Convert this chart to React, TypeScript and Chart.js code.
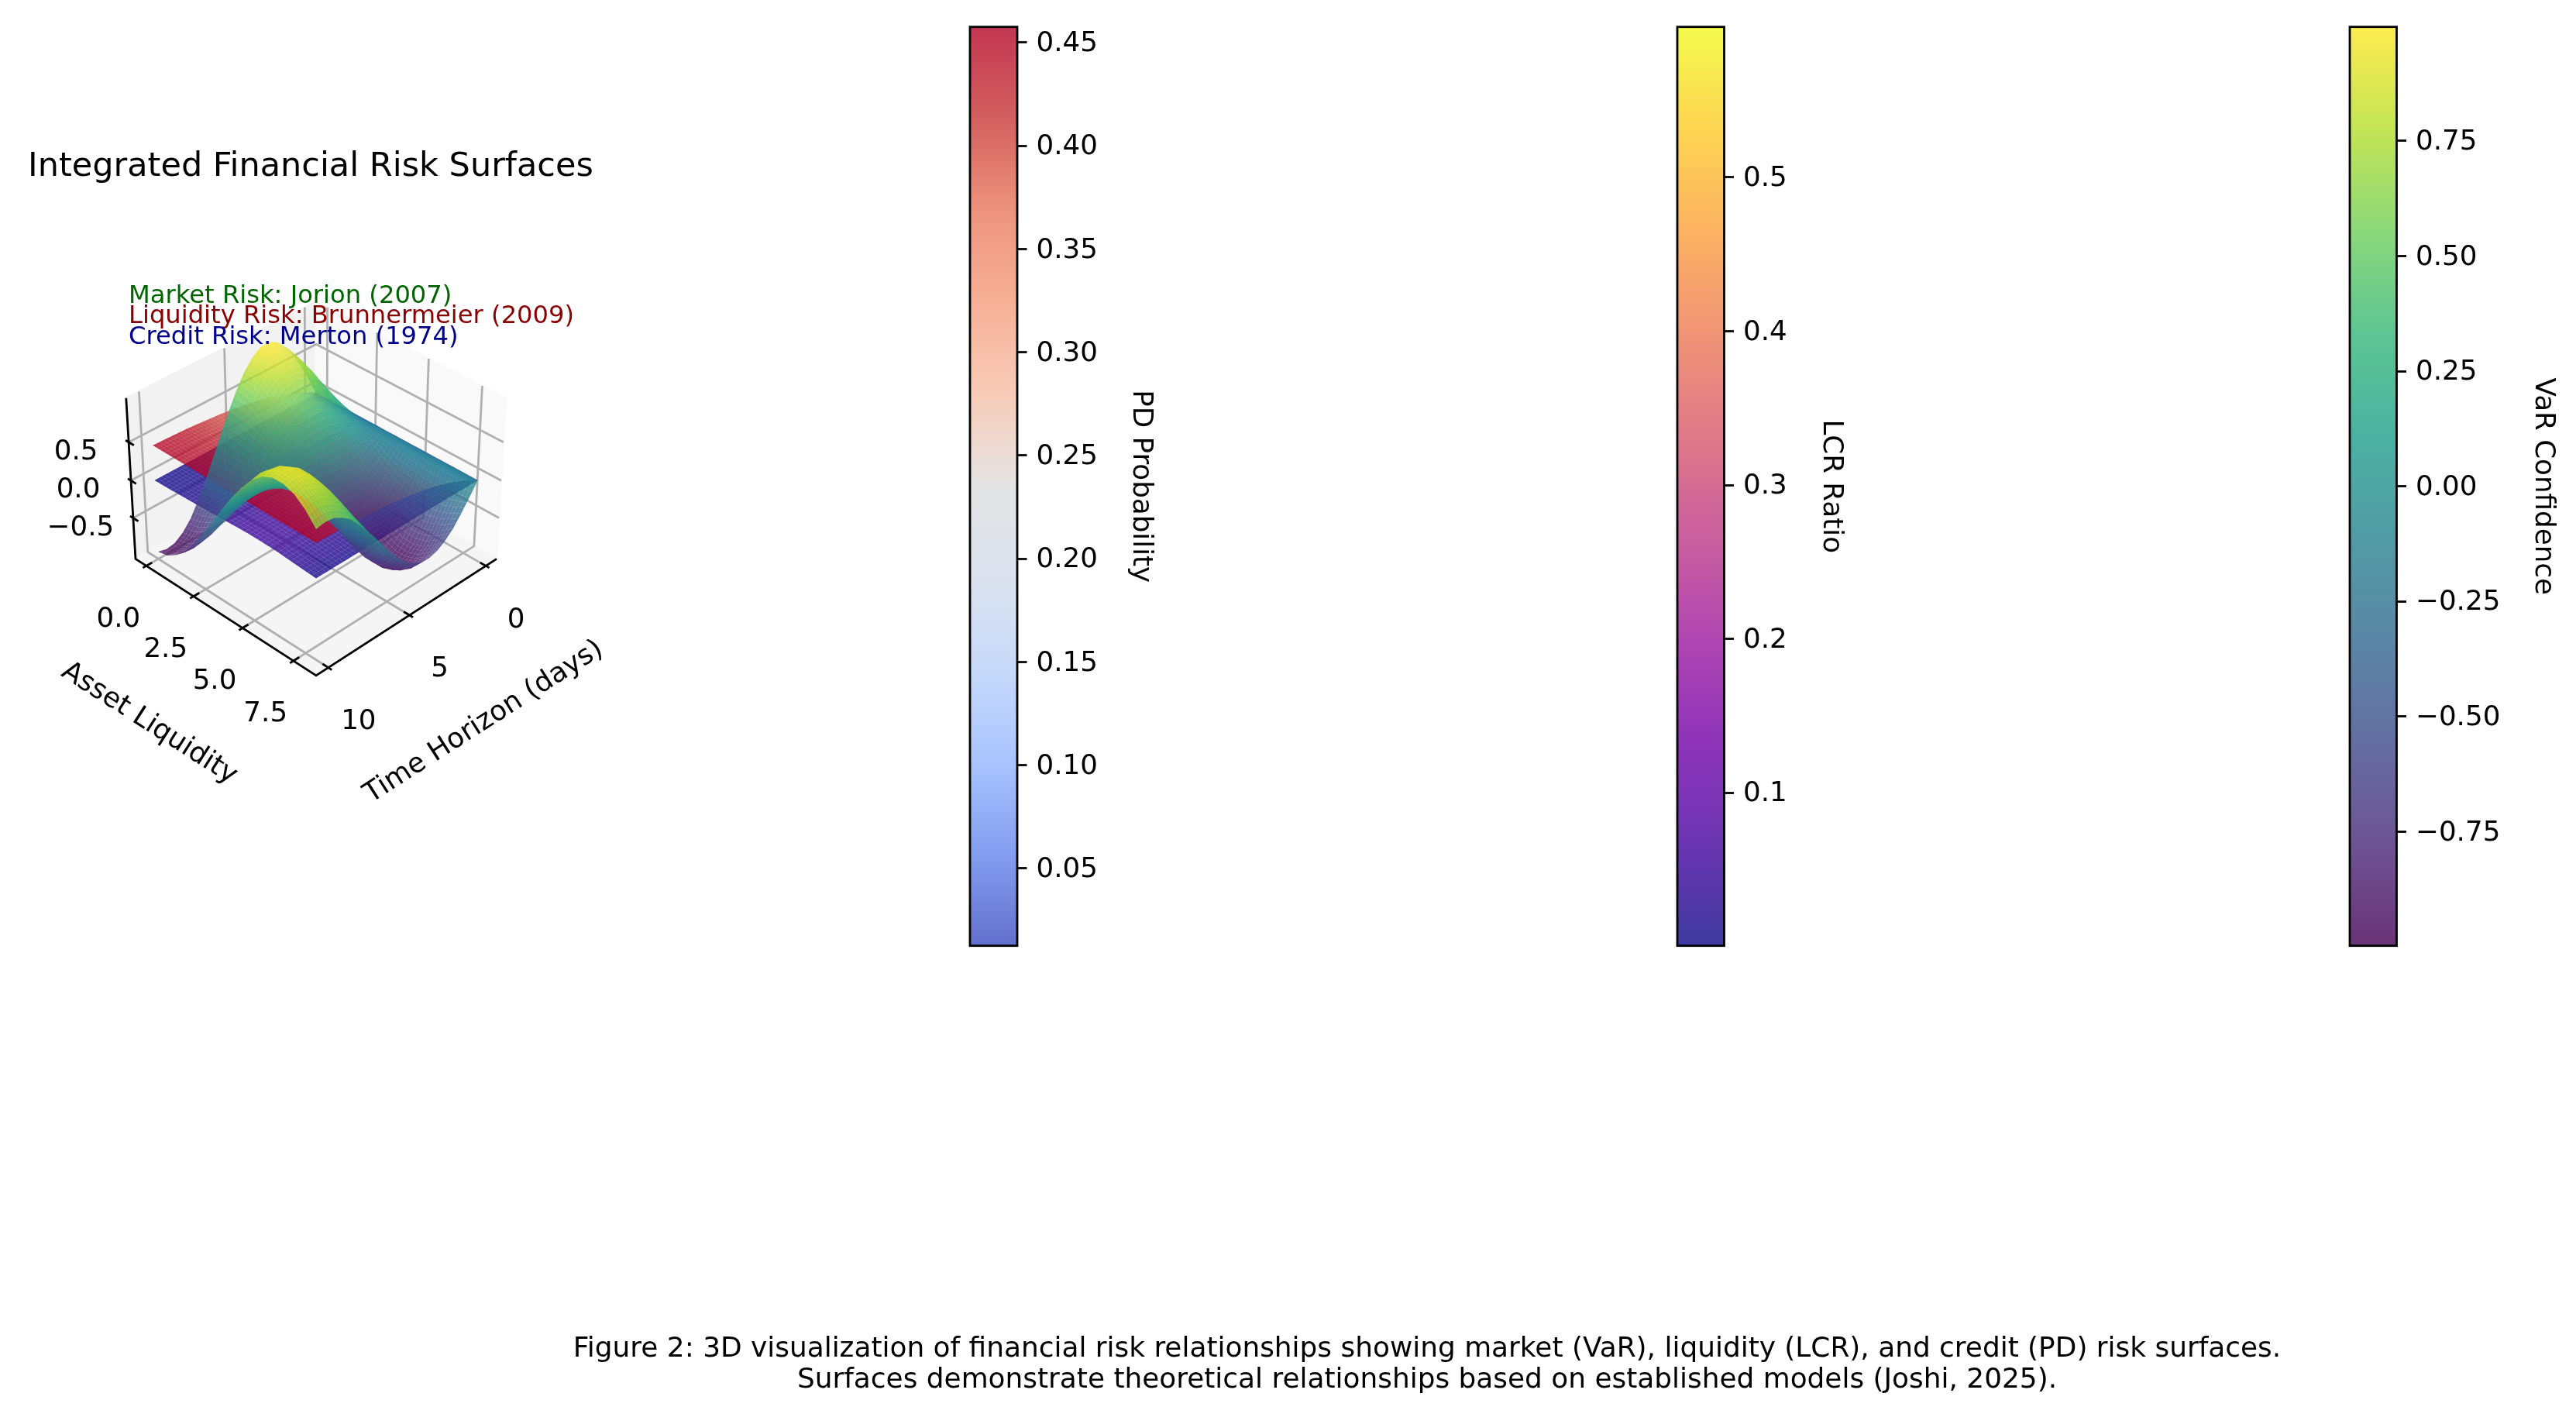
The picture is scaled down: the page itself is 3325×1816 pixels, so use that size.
import { useEffect, useRef } from 'react';
import { Chart, registerables } from 'chart.js';

Chart.register(...registerables);

const W = 3325;
const H = 1816;
const FONT = '"DejaVu Sans"';

// ---- data ----
const TIME_FINE = [0, 0.5, 1, 1.5, 2, 2.5, 3, 3.5, 4, 4.5, 5, 5.5, 6, 6.5, 7, 7.5, 8, 8.5, 9, 9.5, 10];
const LIQ_FINE = [0, 0.5, 1, 1.5, 2, 2.5, 3, 3.5, 4, 4.5, 5, 5.5, 6, 6.5, 7, 7.5, 8];
const VAR_Z = [
  [0, .25, .48, .68, .84, .95, 1.0, .99, .91, .78, .60, .38, .14, -.11, -.35, -.57, -.76, -.89, -.97, -.99, -.96],
  [0, .24, .46, .66, .81, .92, .97, .95, .88, .75, .58, .37, .14, -.10, -.34, -.55, -.73, -.87, -.94, -.96, -.93],
  [0, .22, .42, .60, .74, .83, .88, .86, .80, .68, .53, .34, .12, -.09, -.31, -.50, -.66, -.78, -.86, -.87, -.84],
  [0, .18, .35, .50, .62, .69, .73, .72, .67, .57, .44, .28, .10, -.08, -.26, -.42, -.55, -.65, -.71, -.73, -.70],
  [0, .13, .26, .37, .45, .51, .54, .53, .49, .42, .32, .21, .08, -.06, -.19, -.31, -.41, -.48, -.53, -.54, -.52],
  [0, .08, .15, .21, .26, .30, .31, .31, .29, .25, .19, .12, .04, -.03, -.11, -.18, -.24, -.28, -.31, -.31, -.30],
  [0, .02, .03, .05, .06, .07, .07, .07, .06, .06, .04, .03, .01, -.01, -.02, -.04, -.05, -.06, -.07, -.07, -.07],
  [0, -.04, -.09, -.12, -.15, -.17, -.18, -.18, -.16, -.14, -.11, -.07, -.03, .02, .06, .10, .13, .16, .17, .18, .17],
  [0, -.10, -.20, -.28, -.35, -.39, -.41, -.41, -.38, -.32, -.25, -.16, -.06, .04, .15, .24, .31, .37, .41, .41, .40],
  [0, -.16, -.30, -.43, -.53, -.60, -.63, -.62, -.57, -.49, -.38, -.24, -.09, .07, .22, .36, .48, .56, .61, .62, .60],
  [0, -.20, -.38, -.55, -.67, -.76, -.80, -.79, -.73, -.62, -.48, -.31, -.11, .09, .28, .46, .61, .72, .78, .80, .77],
  [0, -.23, -.44, -.63, -.78, -.88, -.92, -.91, -.84, -.72, -.55, -.35, -.13, .10, .32, .53, .70, .83, .90, .92, .89],
  [0, -.24, -.47, -.68, -.83, -.94, -.99, -.98, -.90, -.77, -.59, -.38, -.14, .11, .35, .57, .75, .89, .96, .98, .95],
  [0, -.25, -.48, -.68, -.84, -.94, -.99, -.98, -.90, -.77, -.59, -.38, -.14, .11, .35, .57, .75, .89, .97, .99, .95],
  [0, -.23, -.45, -.64, -.79, -.89, -.93, -.92, -.85, -.73, -.56, -.36, -.13, .10, .33, .54, .71, .84, .91, .93, .90],
  [0, -.20, -.39, -.56, -.69, -.78, -.82, -.81, -.75, -.64, -.49, -.31, -.12, .09, .29, .47, .62, .73, .80, .82, .79],
  [0, -.16, -.31, -.45, -.55, -.62, -.65, -.64, -.59, -.51, -.39, -.25, -.09, .07, .23, .37, .50, .58, .64, .65, .63],
];
const TIME_COARSE = [0, 1, 2, 3, 4, 5, 6, 7, 8, 9, 10];
const LIQ_COARSE = [0, 1, 2, 3, 4, 5, 6, 7, 8];
const PD_BY_TIME = [0.006, 0.12, 0.21, 0.28, 0.33, 0.37, 0.40, 0.42, 0.44, 0.45, 0.458];
const LCR_Z = [
  [.001, .001, .002, .002, .002, .002, .002, .002, .002, .002, .002],
  [.001, .005, .008, .01, .01, .01, .01, .01, .01, .01, .01],
  [.001, .01, .016, .02, .02, .02, .02, .02, .02, .02, .02],
  [.001, .016, .026, .032, .032, .032, .032, .032, .032, .032, .032],
  [.001, .022, .036, .045, .045, .045, .045, .045, .045, .045, .045],
  [.001, .028, .044, .055, .055, .055, .055, .055, .055, .055, .055],
  [.001, .025, .04, .05, .05, .05, .05, .05, .05, .05, .05],
  [.001, .015, .024, .03, .03, .03, .03, .03, .03, .03, .03],
  [.001, .005, .008, .01, .01, .01, .01, .01, .01, .01, .01],
];

const X_TICKS = [0, 5, 10];
const Y_TICKS = [0, 2.5, 5, 7.5];
const Z_TICKS = [-0.5, 0, 0.5];
const TITLE = 'Integrated Financial Risk Surfaces';
const X_LABEL = 'Time Horizon (days)';
const Y_LABEL = 'Asset Liquidity';
const NOTES = [
  { text: 'Market Risk: Jorion (2007)', color: '#006400', base: 391 },
  { text: 'Liquidity Risk: Brunnermeier (2009)', color: '#8b0000', base: 417 },
  { text: 'Credit Risk: Merton (1974)', color: '#00008b', base: 444 },
];
const CAPTION = [
  'Figure 2: 3D visualization of financial risk relationships showing market (VaR), liquidity (LCR), and credit (PD) risk surfaces.',
  'Surfaces demonstrate theoretical relationships based on established models (Joshi, 2025).',
];

const VIRIDIS = ['#440154', '#482878', '#3e4a89', '#31688e', '#26828e', '#1f9e89', '#35b779', '#6ece58', '#b5de2b', '#fde725'];
const PLASMA = ['#0d0887', '#46039f', '#7201a8', '#9c179e', '#bd3786', '#d8576b', '#ed7953', '#fb9f3a', '#fdca26', '#f0f921'];
const COOLWARM = ['#3b4cc0', '#6485ec', '#93b5fe', '#b9d0f9', '#d1dae9', '#dddddd', '#f6bfa6', '#f59c7d', '#e9785d', '#c83836', '#b40426'];

const BARS = [
  { name: 'PD Probability', left: 1252.7, right: 1313, min: 0.0125, max: 0.4576, ticks: [0.05, 0.1, 0.15, 0.2, 0.25, 0.3, 0.35, 0.4, 0.45], digits: 2, stops: COOLWARM, edge: 1494 },
  { name: 'LCR Ratio', left: 2165, right: 2225.5, min: 0.0005, max: 0.5978, ticks: [0.1, 0.2, 0.3, 0.4, 0.5], digits: 1, stops: PLASMA, edge: 2385 },
  { name: 'VaR Confidence', left: 3033, right: 3093.5, min: -0.9978, max: 0.9975, ticks: [-0.75, -0.5, -0.25, 0, 0.25, 0.5, 0.75], digits: 2, stops: VIRIDIS, edge: 3304 },
];

// ---- view of the 3D box ----
const ELEV = (35 * Math.PI) / 180;
const AZIM = (45 * Math.PI) / 180;
const DIST = 10;
const HALF = [0.595, 0.595, 0.446];
const X_PANE = [-0.73, 10.73];
const Y_PANE = [-0.583, 8.583];
const Z_PANE = [-1.06, 1.06];
const PX_PER_UNIT = 2840;
const CENTER_X = 408;
const CENTER_Y = 620.2;

const U = [-Math.sin(AZIM), Math.cos(AZIM), 0];
const V = [-Math.sin(ELEV) * Math.cos(AZIM), -Math.sin(ELEV) * Math.sin(AZIM), Math.cos(ELEV)];
const N = [Math.cos(ELEV) * Math.cos(AZIM), Math.cos(ELEV) * Math.sin(AZIM), Math.sin(ELEV)];
const dot = (a: number[], b: number[]) => a[0] * b[0] + a[1] * b[1] + a[2] * b[2];

function toBox(x: number, y: number, z: number) {
  return [
    ((x - X_PANE[0]) / (X_PANE[1] - X_PANE[0]) * 2 - 1) * HALF[0],
    ((y - Y_PANE[0]) / (Y_PANE[1] - Y_PANE[0]) * 2 - 1) * HALF[1],
    ((z - Z_PANE[0]) / (Z_PANE[1] - Z_PANE[0]) * 2 - 1) * HALF[2],
  ];
}
function project(x: number, y: number, z: number) {
  const d = toBox(x, y, z);
  const depth = DIST - dot(N, d);
  return { x: dot(U, d) / depth, y: dot(V, d) / depth, depth };
}

function hexRgb(h: string) {
  return [parseInt(h.slice(1, 3), 16), parseInt(h.slice(3, 5), 16), parseInt(h.slice(5, 7), 16)];
}
function sampleMap(stops: string[], t: number) {
  const f = Math.min(1, Math.max(0, t)) * (stops.length - 1);
  const i = Math.min(stops.length - 2, Math.floor(f));
  const a = hexRgb(stops[i]);
  const b = hexRgb(stops[i + 1]);
  const k = f - i;
  return [0, 1, 2].map((c) => Math.round(a[c] + (b[c] - a[c]) * k));
}

// Finer drawing mesh over a table of values, as a line's tension would do.
function buildMesh(xs: number[], ys: number[], table: number[][], sub: number) {
  const nx = (xs.length - 1) * sub + 1;
  const ny = (ys.length - 1) * sub + 1;
  const pts: { x: number; y: number }[] = [];
  const zs: number[] = [];
  const depths: number[] = [];
  for (let j = 0; j < ny; j++) {
    const jb = Math.min(ys.length - 2, Math.floor(j / sub));
    const fy = j / sub - jb;
    const yv = ys[jb] + (ys[jb + 1] - ys[jb]) * fy;
    for (let i = 0; i < nx; i++) {
      const ib = Math.min(xs.length - 2, Math.floor(i / sub));
      const fx = i / sub - ib;
      const xv = xs[ib] + (xs[ib + 1] - xs[ib]) * fx;
      const z0 = table[jb][ib] + (table[jb][ib + 1] - table[jb][ib]) * fx;
      const z1 = table[jb + 1][ib] + (table[jb + 1][ib + 1] - table[jb + 1][ib]) * fx;
      const z = z0 + (z1 - z0) * fy;
      const p = project(xv, yv, z);
      pts.push({ x: p.x, y: p.y });
      zs.push(z);
      depths.push(p.depth);
    }
  }
  return { nx, ny, pts, zs, depths };
}

const PD_Z = LIQ_COARSE.map(() => PD_BY_TIME);

const SURFACES = [
  { label: 'LCR', mesh: buildMesh(TIME_COARSE, LIQ_COARSE, LCR_Z, 5), stops: PLASMA, min: 0.0005, max: 0.5978 },
  { label: 'PD', mesh: buildMesh(TIME_COARSE, LIQ_COARSE, PD_Z, 5), stops: COOLWARM, min: 0.0125, max: 0.4576 },
  { label: 'VaR', mesh: buildMesh(TIME_FINE, LIQ_FINE, VAR_Z, 3), stops: VIRIDIS, min: -0.9978, max: 0.9975 },
];

const mainPlugin = {
  id: 'surfaces3d',
  beforeDatasetsDraw(chart: any) {
    const { ctx } = chart;
    const sx = chart.scales.x;
    const sy = chart.scales.y;
    const px = (x: number, y: number, z: number) => {
      const p = project(x, y, z);
      return [sx.getPixelForValue(p.x), sy.getPixelForValue(p.y)];
    };
    const poly = (points: number[][]) => {
      ctx.beginPath();
      points.forEach((q, i) => (i ? ctx.lineTo(q[0], q[1]) : ctx.moveTo(q[0], q[1])));
    };
    const [x0, x1] = X_PANE;
    const [y0, y1] = Y_PANE;
    const [z0, z1] = Z_PANE;
    ctx.save();
    ctx.lineJoin = 'round';
    const pane = (pts: number[][], c: string) => {
      poly(pts);
      ctx.closePath();
      ctx.fillStyle = c;
      ctx.fill();
      ctx.strokeStyle = c;
      ctx.lineWidth = 2.8;
      ctx.stroke();
    };
    pane([px(x0, y0, z0), px(x1, y0, z0), px(x1, y0, z1), px(x0, y0, z1)], '#f2f2f2');
    pane([px(x0, y0, z0), px(x0, y1, z0), px(x0, y1, z1), px(x0, y0, z1)], '#f9f9f9');
    pane([px(x0, y0, z0), px(x1, y0, z0), px(x1, y1, z0), px(x0, y1, z0)], '#f5f5f5');

    ctx.strokeStyle = '#b0b0b0';
    ctx.lineWidth = 2.8;
    X_TICKS.forEach((t) => {
      poly([px(t, y1, z0), px(t, y0, z0), px(t, y0, z1)]);
      ctx.stroke();
    });
    Y_TICKS.forEach((t) => {
      poly([px(x1, t, z0), px(x0, t, z0), px(x0, t, z1)]);
      ctx.stroke();
    });
    Z_TICKS.forEach((t) => {
      poly([px(x1, y0, t), px(x0, y0, t), px(x0, y1, t)]);
      ctx.stroke();
    });

    ctx.strokeStyle = '#000';
    ctx.lineWidth = 2.8;
    poly([px(x0, y1, z0), px(x1, y1, z0), px(x1, y0, z0), px(x1, y0, z1)]);
    ctx.stroke();
    const tx = (x1 - x0) * 0.03;
    const ty = (y1 - y0) * 0.03;
    X_TICKS.forEach((t) => {
      poly([px(t, y1 - ty, z0), px(t, y1 + ty * 0.6, z0)]);
      ctx.stroke();
    });
    Y_TICKS.forEach((t) => {
      poly([px(x1 - tx, t, z0), px(x1 + tx * 0.6, t, z0)]);
      ctx.stroke();
    });
    Z_TICKS.forEach((t) => {
      poly([px(x1, y0 + ty, t), px(x1, y0 - ty * 0.6, t)]);
      ctx.stroke();
    });
    ctx.restore();
  },
  afterDatasetsDraw(chart: any) {
    const { ctx } = chart;
    ctx.save();
    SURFACES.forEach((s, di) => {
      const el = chart.getDatasetMeta(di).data;
      const { nx, ny, zs, depths } = s.mesh;
      const quads: { d: number; idx: number[]; z: number }[] = [];
      for (let j = 0; j < ny - 1; j++) {
        for (let i = 0; i < nx - 1; i++) {
          const a = j * nx + i;
          const idx = [a, a + 1, a + nx + 1, a + nx];
          quads.push({
            d: (depths[idx[0]] + depths[idx[1]] + depths[idx[2]] + depths[idx[3]]) / 4,
            z: (zs[idx[0]] + zs[idx[1]] + zs[idx[2]] + zs[idx[3]]) / 4,
            idx,
          });
        }
      }
      quads.sort((p, q) => q.d - p.d);
      quads.forEach((q) => {
        const c = sampleMap(s.stops, (q.z - s.min) / (s.max - s.min));
        ctx.fillStyle = `rgba(${c[0]},${c[1]},${c[2]},0.8)`;
        ctx.beginPath();
        q.idx.forEach((k, m) => (m ? ctx.lineTo(el[k].x, el[k].y) : ctx.moveTo(el[k].x, el[k].y)));
        ctx.closePath();
        ctx.fill();
      });
    });

    const sx = chart.scales.x;
    const sy = chart.scales.y;
    const at = (x: number, y: number, z: number) => {
      const p = project(x, y, z);
      return [sx.getPixelForValue(p.x), sy.getPixelForValue(p.y)];
    };
    ctx.fillStyle = '#000';
    ctx.textAlign = 'center';
    ctx.textBaseline = 'middle';
    ctx.font = `35.7px ${FONT}`;
    const [x0, x1] = X_PANE;
    const [y0, y1] = Y_PANE;
    const [z0] = Z_PANE;
    X_TICKS.forEach((t) => {
      const p = at(t, y1, z0);
      ctx.fillText(String(t), p[0] + 39, p[1] + 70);
    });
    Y_TICKS.forEach((t) => {
      const p = at(x1, t, z0);
      ctx.fillText(t.toFixed(1), p[0] - 36, p[1] + 69);
    });
    Z_TICKS.forEach((t) => {
      const p = at(x1, y0, t);
      ctx.fillText(t.toFixed(1).replace('-', '\u2212'), p[0] - 68, p[1] + 13);
    });
    const rotated = (text: string, c: number[], ang: number) => {
      ctx.save();
      ctx.translate(c[0], c[1]);
      ctx.rotate(ang);
      ctx.fillText(text, 0, 0);
      ctx.restore();
    };
    const ym = at(x1, (y0 + y1) / 2, z0);
    const xm = at((x0 + x1) / 2, y1, z0);
    rotated(Y_LABEL, [ym[0] - 95, ym[1] + 140], (32.7 * Math.PI) / 180);
    rotated(X_LABEL, [xm[0] + 96, xm[1] + 138], (-32.7 * Math.PI) / 180);

    ctx.textAlign = 'left';
    ctx.textBaseline = 'alphabetic';
    ctx.font = `43px ${FONT}`;
    ctx.fillText(TITLE, 36, 227);
    ctx.font = `32.2px ${FONT}`;
    NOTES.forEach((n) => {
      ctx.fillStyle = n.color;
      ctx.fillText(n.text, 166, n.base);
    });
    ctx.fillStyle = '#000';
    ctx.textAlign = 'center';
    ctx.font = `35.9px ${FONT}`;
    ctx.fillText(CAPTION[0], 1842, 1751);
    ctx.fillText(CAPTION[1], 1842, 1791);
    ctx.restore();
  },
};

const PANEL_TOP = 34.7;
const PANEL_BOTTOM = 1220.7;
const LABEL_NUDGE = 2;

function makeBar(canvas: HTMLCanvasElement, bar: (typeof BARS)[number]) {
  const pad = 2;
  const scaleWidth = bar.edge - bar.right;
  const outlinePlugin = {
    id: 'outline',
    afterDraw(chart: any) {
      const { ctx, chartArea: a } = chart;
      ctx.save();
      ctx.strokeStyle = '#000';
      ctx.lineWidth = 2.8;
      ctx.strokeRect(a.left, a.top, a.right - a.left, a.bottom - a.top);
      ctx.restore();
    },
  };
  return new Chart(canvas, {
    type: 'bar',
    data: {
      labels: [bar.name],
      datasets: [
        {
          data: [[bar.min, bar.max]],
          barPercentage: 1,
          categoryPercentage: 1,
          borderWidth: 0,
          backgroundColor(c: any) {
            const a = c.chart.chartArea;
            if (!a) return '#888';
            const g = c.chart.ctx.createLinearGradient(0, a.bottom, 0, a.top);
            bar.stops.forEach((h, i) => {
              const rgb = hexRgb(h);
              g.addColorStop(i / (bar.stops.length - 1), `rgba(${rgb[0]},${rgb[1]},${rgb[2]},0.8)`);
            });
            return g;
          },
        } as any,
      ],
    },
    options: {
      responsive: false,
      animation: false,
      devicePixelRatio: 1,
      events: [],
      layout: { padding: { left: pad, top: PANEL_TOP, bottom: H - PANEL_BOTTOM, right: 0 } },
      plugins: { legend: { display: false }, title: { display: false }, tooltip: { enabled: false } },
      scales: {
        x: { display: false },
        y: {
          position: 'right',
          min: bar.min,
          max: bar.max,
          afterFit(s: any) {
            s.width = scaleWidth;
            if (!s._nudged) {
              s._nudged = true;
              const original = s.drawLabels;
              s.drawLabels = function (area: any) {
                s.ctx.save();
                s.ctx.translate(0, LABEL_NUDGE);
                original.call(s, area);
                s.ctx.restore();
              };
            }
          },
          afterBuildTicks(s: any) {
            s.ticks = bar.ticks.map((value) => ({ value }));
          },
          grid: { drawOnChartArea: false, drawTicks: true, tickLength: 12.5, tickColor: '#000', tickWidth: 2.8 },
          border: { display: false },
          ticks: {
            padding: 12,
            color: '#000',
            font: { family: FONT, size: 35.7 },
            autoSkip: false,
            callback: (v: any) => Number(v).toFixed(bar.digits).replace('-', '\u2212'),
          },
          title: {
            display: true,
            text: bar.name,
            color: '#000',
            font: { family: FONT, size: 35.7 },
            padding: 0,
          },
        },
      },
    } as any,
    plugins: [outlinePlugin],
  });
}

function Bar({ bar }: { bar: (typeof BARS)[number] }) {
  const ref = useRef<HTMLCanvasElement | null>(null);
  useEffect(() => {
    const chart = makeBar(ref.current as HTMLCanvasElement, bar);
    return () => chart.destroy();
  }, [bar]);
  return (
    <canvas
      ref={ref}
      width={Math.ceil(bar.edge - bar.left + 2)}
      height={H}
      style={{ position: 'absolute', left: bar.edge + 0 - Math.ceil(bar.edge - bar.left + 2), top: 0, display: 'block' }}
    />
  );
}

export default function App() {
  const ref = useRef<HTMLCanvasElement | null>(null);
  useEffect(() => {
    document.body.style.margin = '0';
    const chart = new Chart(ref.current as HTMLCanvasElement, {
      type: 'scatter',
      data: {
        datasets: SURFACES.map((s) => ({
          label: s.label,
          data: s.mesh.pts,
          pointRadius: 0,
          showLine: false,
        })),
      },
      options: {
        responsive: false,
        animation: false,
        devicePixelRatio: 1,
        events: [],
        parsing: false,
        layout: { padding: 0 },
        plugins: { legend: { display: false }, title: { display: false }, tooltip: { enabled: false } },
        scales: {
          x: { display: false, min: -CENTER_X / PX_PER_UNIT, max: (W - CENTER_X) / PX_PER_UNIT },
          y: { display: false, min: (CENTER_Y - H) / PX_PER_UNIT, max: CENTER_Y / PX_PER_UNIT },
        },
      } as any,
      plugins: [mainPlugin],
    });
    return () => chart.destroy();
  }, []);
  return (
    <div style={{ position: 'absolute', left: 0, top: 0, width: W, height: H, overflow: 'hidden', background: '#fff' }}>
      <canvas ref={ref} width={W} height={H} style={{ position: 'absolute', left: 0, top: 0, display: 'block' }} />
      {BARS.map((b) => (
        <Bar key={b.name} bar={b} />
      ))}
    </div>
  );
}
